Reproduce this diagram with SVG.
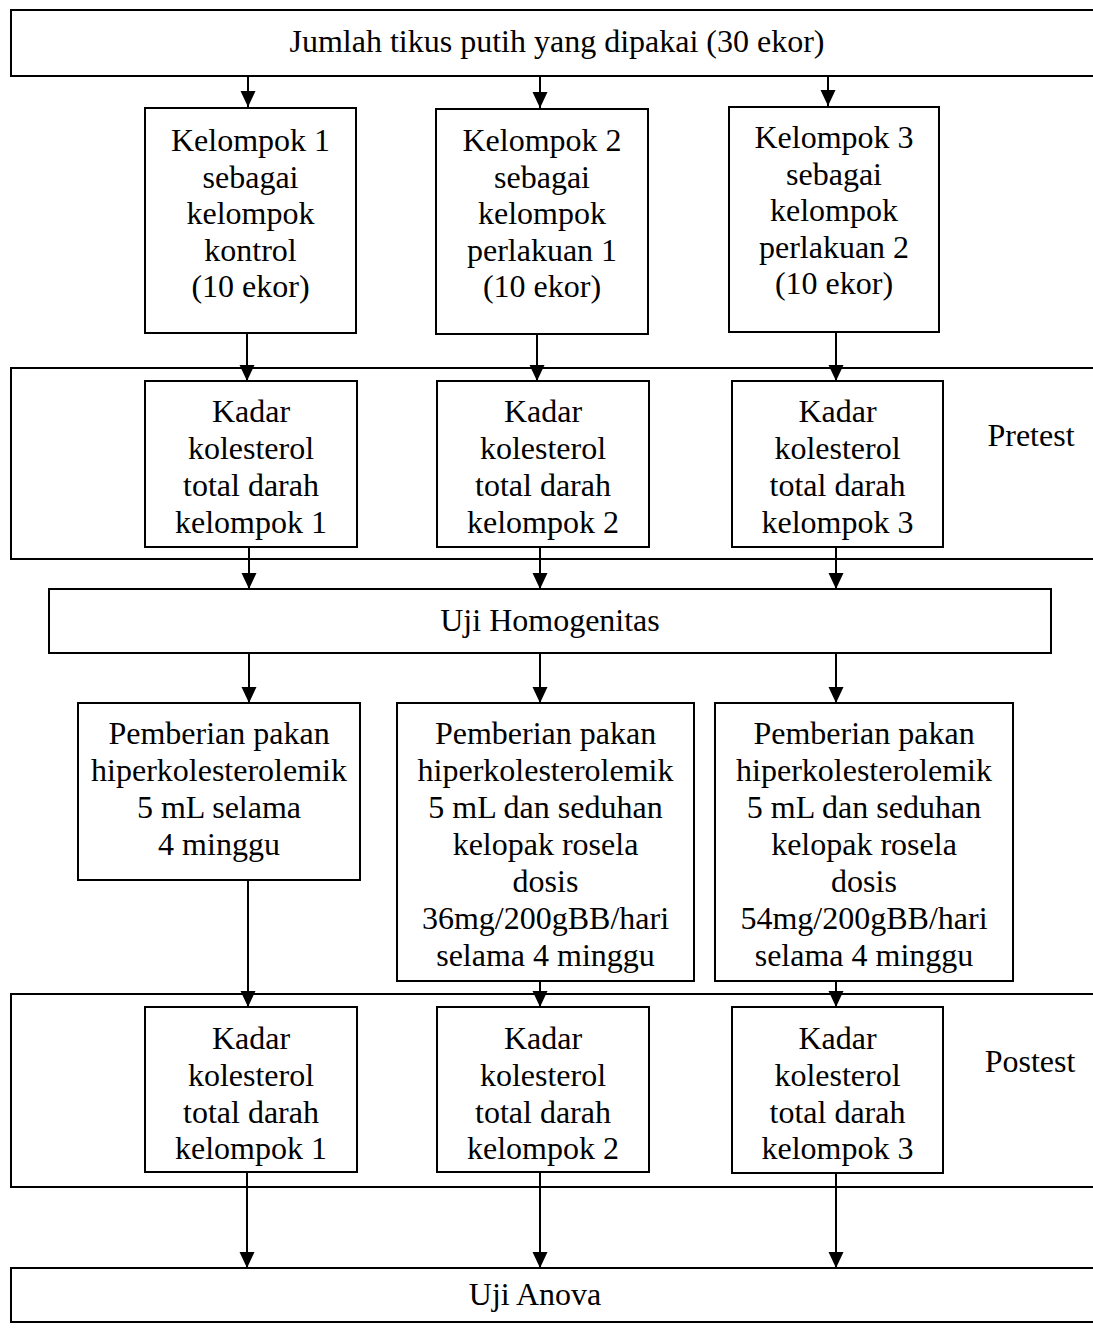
<svg xmlns="http://www.w3.org/2000/svg" width="1093" height="1330" viewBox="0 0 1093 1330">
<style>
.box{fill:#fff;stroke:#000;stroke-width:2}
.band{fill:none;stroke:#000;stroke-width:2}
.t{font-family:"Liberation Serif","Times New Roman",serif;font-size:32px;fill:#000;text-anchor:middle}
.c{stroke:#000;stroke-width:2;fill:none;marker-end:url(#ah)}
</style>
<defs>
<marker id="ah" markerUnits="userSpaceOnUse" markerWidth="16" markerHeight="16" viewBox="0 0 16 16" refX="16" refY="8" orient="auto">
<path d="M0,0.5 L16,8 L0,15.5 z" fill="#000"/>
</marker>
</defs>
<rect width="1093" height="1330" fill="#fff"/>

<g id="pretest-band">
<rect class="band" x="11" y="368" width="1100" height="191"/>
<text class="t" x="1031" y="446">Pretest</text>
</g>
<g id="postest-band">
<rect class="band" x="11" y="994" width="1100" height="193"/>
<text class="t" x="1030" y="1072">Postest</text>
</g>

<g id="connectors">
<line class="c" x1="248" y1="76" x2="248" y2="107"/>
<line class="c" x1="540" y1="76" x2="540" y2="108"/>
<line class="c" x1="828" y1="76" x2="828" y2="106"/>
<line class="c" x1="247" y1="333" x2="247" y2="381"/>
<line class="c" x1="537" y1="334" x2="537" y2="381"/>
<line class="c" x1="836" y1="332" x2="836" y2="381"/>
<line class="c" x1="249" y1="547" x2="249" y2="589"/>
<line class="c" x1="540" y1="547" x2="540" y2="589"/>
<line class="c" x1="836" y1="547" x2="836" y2="589"/>
<line class="c" x1="249" y1="653" x2="249" y2="703"/>
<line class="c" x1="540" y1="653" x2="540" y2="703"/>
<line class="c" x1="836" y1="653" x2="836" y2="703"/>
<line class="c" x1="248" y1="880" x2="248" y2="1007"/>
<line class="c" x1="540" y1="981" x2="540" y2="1007"/>
<line class="c" x1="836" y1="981" x2="836" y2="1007"/>
<line class="c" x1="247" y1="1172" x2="247" y2="1268"/>
<line class="c" x1="540" y1="1172" x2="540" y2="1268"/>
<line class="c" x1="836" y1="1173" x2="836" y2="1268"/>
</g>

<g id="n-jumlah">
<rect class="box" x="11" y="10" width="1100" height="66"/>
<text class="t" x="557" y="52">Jumlah tikus putih yang dipakai (30 ekor)</text>
</g>

<g id="n-kel1">
<rect class="box" x="145" y="108" width="211" height="225"/>
<text class="t" x="250.5" y="151">Kelompok 1</text>
<text class="t" x="250.5" y="188">sebagai</text>
<text class="t" x="250.5" y="224">kelompok</text>
<text class="t" x="250.5" y="261">kontrol</text>
<text class="t" x="250.5" y="297">(10 ekor)</text>
</g>
<g id="n-kel2">
<rect class="box" x="436" y="109" width="212" height="225"/>
<text class="t" x="542" y="151">Kelompok 2</text>
<text class="t" x="542" y="188">sebagai</text>
<text class="t" x="542" y="224">kelompok</text>
<text class="t" x="542" y="261">perlakuan 1</text>
<text class="t" x="542" y="297">(10 ekor)</text>
</g>
<g id="n-kel3">
<rect class="box" x="729" y="107" width="210" height="225"/>
<text class="t" x="834" y="148">Kelompok 3</text>
<text class="t" x="834" y="185">sebagai</text>
<text class="t" x="834" y="221">kelompok</text>
<text class="t" x="834" y="258">perlakuan 2</text>
<text class="t" x="834" y="294">(10 ekor)</text>
</g>

<g id="n-pre1">
<rect class="box" x="145" y="381" width="212" height="166"/>
<text class="t" x="251" y="422">Kadar</text>
<text class="t" x="251" y="459">kolesterol</text>
<text class="t" x="251" y="496">total darah</text>
<text class="t" x="251" y="533">kelompok 1</text>
</g>
<g id="n-pre2">
<rect class="box" x="437" y="381" width="212" height="166"/>
<text class="t" x="543" y="422">Kadar</text>
<text class="t" x="543" y="459">kolesterol</text>
<text class="t" x="543" y="496">total darah</text>
<text class="t" x="543" y="533">kelompok 2</text>
</g>
<g id="n-pre3">
<rect class="box" x="732" y="381" width="211" height="166"/>
<text class="t" x="837.5" y="422">Kadar</text>
<text class="t" x="837.5" y="459">kolesterol</text>
<text class="t" x="837.5" y="496">total darah</text>
<text class="t" x="837.5" y="533">kelompok 3</text>
</g>

<g id="n-homogen">
<rect class="box" x="49" y="589" width="1002" height="64"/>
<text class="t" x="550" y="631">Uji Homogenitas</text>
</g>

<g id="n-pem1">
<rect class="box" x="78" y="703" width="282" height="177"/>
<text class="t" x="219" y="744">Pemberian pakan</text>
<text class="t" x="219" y="781">hiperkolesterolemik</text>
<text class="t" x="219" y="818">5 mL selama</text>
<text class="t" x="219" y="855">4 minggu</text>
</g>
<g id="n-pem2">
<rect class="box" x="397" y="703" width="297" height="278"/>
<text class="t" x="545.5" y="744">Pemberian pakan</text>
<text class="t" x="545.5" y="781">hiperkolesterolemik</text>
<text class="t" x="545.5" y="818">5 mL dan seduhan</text>
<text class="t" x="545.5" y="855">kelopak rosela</text>
<text class="t" x="545.5" y="892">dosis</text>
<text class="t" x="545.5" y="929">36mg/200gBB/hari</text>
<text class="t" x="545.5" y="966">selama 4 minggu</text>
</g>
<g id="n-pem3">
<rect class="box" x="715" y="703" width="298" height="278"/>
<text class="t" x="864" y="744">Pemberian pakan</text>
<text class="t" x="864" y="781">hiperkolesterolemik</text>
<text class="t" x="864" y="818">5 mL dan seduhan</text>
<text class="t" x="864" y="855">kelopak rosela</text>
<text class="t" x="864" y="892">dosis</text>
<text class="t" x="864" y="929">54mg/200gBB/hari</text>
<text class="t" x="864" y="966">selama 4 minggu</text>
</g>

<g id="n-post1">
<rect class="box" x="145" y="1007" width="212" height="165"/>
<text class="t" x="251" y="1049">Kadar</text>
<text class="t" x="251" y="1086">kolesterol</text>
<text class="t" x="251" y="1123">total darah</text>
<text class="t" x="251" y="1159">kelompok 1</text>
</g>
<g id="n-post2">
<rect class="box" x="437" y="1007" width="212" height="165"/>
<text class="t" x="543" y="1049">Kadar</text>
<text class="t" x="543" y="1086">kolesterol</text>
<text class="t" x="543" y="1123">total darah</text>
<text class="t" x="543" y="1159">kelompok 2</text>
</g>
<g id="n-post3">
<rect class="box" x="732" y="1007" width="211" height="166"/>
<text class="t" x="837.5" y="1049">Kadar</text>
<text class="t" x="837.5" y="1086">kolesterol</text>
<text class="t" x="837.5" y="1123">total darah</text>
<text class="t" x="837.5" y="1159">kelompok 3</text>
</g>

<g id="n-anova">
<rect class="box" x="11" y="1268" width="1100" height="54"/>
<text class="t" x="535" y="1305">Uji Anova</text>
</g>
</svg>
